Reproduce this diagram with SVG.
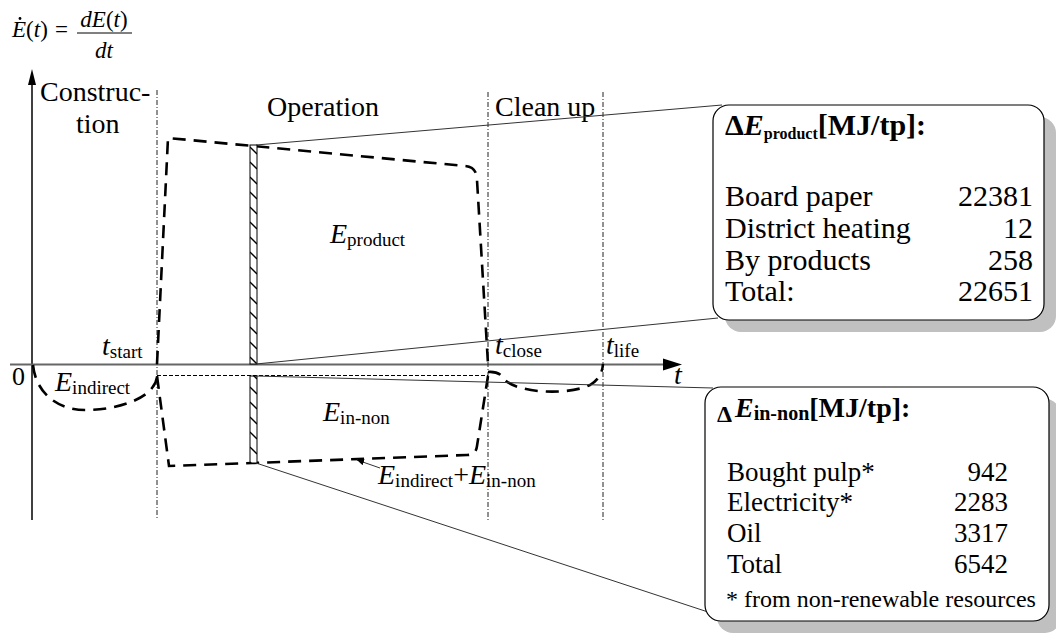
<svg xmlns="http://www.w3.org/2000/svg" width="1056" height="635" viewBox="0 0 1056 635">
<style>
text{font-family:"Liberation Serif","Times New Roman",serif;fill:#000}
.it{font-style:italic}
.lbl{font-size:28px}
.sub{font-size:19px}
.dash{fill:none;stroke:#000;stroke-width:2.6;stroke-dasharray:13 8;stroke-linecap:butt}
.divider{fill:none;stroke:#222;stroke-width:1;stroke-dasharray:5 2 1 2}
.thin{fill:none;stroke:#333;stroke-width:1}
.box{fill:#fff;stroke:#000;stroke-width:1.2}
.shadow{fill:#c0c0c0;stroke:none}
.row1{font-size:30px}
.row2{font-size:27px}
</style>
<defs>
<pattern id="hatch" patternUnits="userSpaceOnUse" width="7" height="15" x="250" y="145">
<rect width="7" height="15" fill="#fff"/>
<line x1="0" y1="2" x2="7" y2="9" stroke="#000" stroke-width="1.3"/>
</pattern>
<marker id="ah" markerWidth="8" markerHeight="8" refX="1" refY="4" orient="auto" markerUnits="userSpaceOnUse">
<path d="M8,1 L1,4 L8,7 Z" fill="#000"/>
</marker>
</defs>

<!-- formula -->
<g id="formula">
<text x="12" y="37" font-size="23"><tspan class="it">E</tspan>(<tspan class="it">t</tspan>)</text>
<circle cx="20" cy="18.5" r="1.4" fill="#000"/>
<text x="55" y="37" font-size="23">=</text>
<text x="104" y="27" font-size="23" text-anchor="middle"><tspan class="it">dE</tspan>(<tspan class="it">t</tspan>)</text>
<line x1="77" y1="33" x2="132" y2="33" stroke="#000" stroke-width="1"/>
<text x="104" y="58" font-size="23" text-anchor="middle" class="it">dt</text>
</g>

<!-- axes -->
<g id="axes">
<line x1="32" y1="80" x2="32" y2="520" stroke="#000" stroke-width="1.5"/>
<path d="M32,69 L28,85 L36,85 Z" fill="#000"/>
<line x1="10" y1="364.5" x2="668" y2="364.5" stroke="#666" stroke-width="2"/>
<path d="M682,364.5 L663,358.5 L663,370.5 Z" fill="#000"/>
<text x="674" y="384" class="lbl it">t</text>
<text x="12" y="385" font-size="26">0</text>
</g>

<!-- phase dividers -->
<g id="phases">
<line class="divider" x1="157" y1="90" x2="157" y2="520"/>
<line class="divider" x1="488" y1="92" x2="488" y2="520"/>
<line class="divider" x1="603" y1="92" x2="603" y2="520"/>
<text x="40" y="101" class="lbl">Construc-</text>
<text x="76" y="133" class="lbl">tion</text>
<text x="267" y="116" class="lbl">Operation</text>
<text x="495" y="116" class="lbl">Clean up</text>
</g>

<!-- energy curves -->
<g id="curves">
<path class="dash" d="M157,364 L168,138 L465,166 Q477,167 477,180 L488,364"/>
<path class="dash" d="M157,376 L169,466 L252,463 L467,455 Q476,455 477,446 L488,376"/>
<path class="dash" d="M33,365 C36,395 60,410 85,410 C120,410 145,398 152,388 Q157,382 157,376"/>
<path class="dash" d="M488,372 Q500,371 505,380 C520,394 570,395 590,385 Q602,378 603,364"/>
<line x1="157" y1="375.5" x2="488" y2="375.5" stroke="#000" stroke-width="1" stroke-dasharray="4 2"/>
</g>

<!-- hatched bars -->
<g id="bar">
<rect x="250" y="145" width="7" height="219" fill="url(#hatch)" stroke="#000" stroke-width="1"/>
<rect x="250" y="376" width="7" height="87" fill="url(#hatch)" stroke="#000" stroke-width="1"/>
</g>

<!-- connectors -->
<g id="connectors">
<line class="thin" x1="256" y1="145" x2="722" y2="105"/>
<line class="thin" x1="256" y1="364" x2="718" y2="318"/>
<line class="thin" x1="256" y1="376" x2="713" y2="388"/>
<line class="thin" x1="256" y1="463" x2="708" y2="612"/>
<line class="thin" x1="357" y1="460" x2="380" y2="468" marker-start="url(#ah)"/>
</g>

<!-- region labels -->
<g id="labels">
<text x="330" y="243" class="lbl"><tspan class="it">E</tspan><tspan class="sub" y="246">product</tspan></text>
<text x="323" y="421" class="lbl"><tspan class="it">E</tspan><tspan class="sub" y="424">in-non</tspan></text>
<text x="55" y="391" class="lbl"><tspan class="it">E</tspan><tspan class="sub" y="394">indirect</tspan></text>
<text x="378" y="484" class="lbl"><tspan class="it">E</tspan><tspan class="sub" y="487">indirect</tspan><tspan y="484">+</tspan><tspan class="it" y="484">E</tspan><tspan class="sub" y="487">in-non</tspan></text>
<text x="102" y="355" class="lbl"><tspan class="it">t</tspan><tspan class="sub" y="358">start</tspan></text>
<text x="495" y="354" class="lbl"><tspan class="it">t</tspan><tspan class="sub" y="357">close</tspan></text>
<text x="606" y="354" class="lbl"><tspan class="it">t</tspan><tspan class="sub" y="357">life</tspan></text>
</g>

<!-- product box -->
<g id="box-product">
<rect class="shadow" x="725" y="117" width="331" height="215" rx="16"/>
<rect class="box" x="713" y="105" width="331" height="215" rx="16"/>
<text x="725" y="135" font-size="30" font-weight="bold">Δ<tspan class="it">E</tspan><tspan font-size="16" y="139">product</tspan><tspan y="135">[MJ/tp]:</tspan></text>
<text x="725" y="206" class="row1">Board paper</text>
<text x="1033" y="206" class="row1" text-anchor="end">22381</text>
<text x="725" y="238" class="row1">District heating</text>
<text x="1033" y="238" class="row1" text-anchor="end">12</text>
<text x="725" y="270" class="row1">By products</text>
<text x="1033" y="270" class="row1" text-anchor="end">258</text>
<text x="725" y="301" class="row1">Total:</text>
<text x="1033" y="301" class="row1" text-anchor="end">22651</text>
</g>

<!-- in-non box -->
<g id="box-innon">
<rect class="shadow" x="717" y="399" width="344" height="234" rx="16"/>
<rect class="box" x="705" y="387" width="344" height="234" rx="16"/>
<text x="717" y="422" font-size="24" font-weight="bold">Δ</text>
<text x="735" y="417" font-size="28" font-weight="bold"><tspan class="it">E</tspan><tspan font-size="20" y="420">in-non</tspan><tspan y="417">[MJ/tp]:</tspan></text>
<text x="727" y="481" class="row2">Bought pulp*</text>
<text x="1008" y="481" class="row2" text-anchor="end">942</text>
<text x="727" y="511" class="row2">Electricity*</text>
<text x="1008" y="511" class="row2" text-anchor="end">2283</text>
<text x="727" y="542" class="row2">Oil</text>
<text x="1008" y="542" class="row2" text-anchor="end">3317</text>
<text x="727" y="573" class="row2">Total</text>
<text x="1008" y="573" class="row2" text-anchor="end">6542</text>
<text x="726" y="607" font-size="24">* from non-renewable resources</text>
</g>
</svg>
